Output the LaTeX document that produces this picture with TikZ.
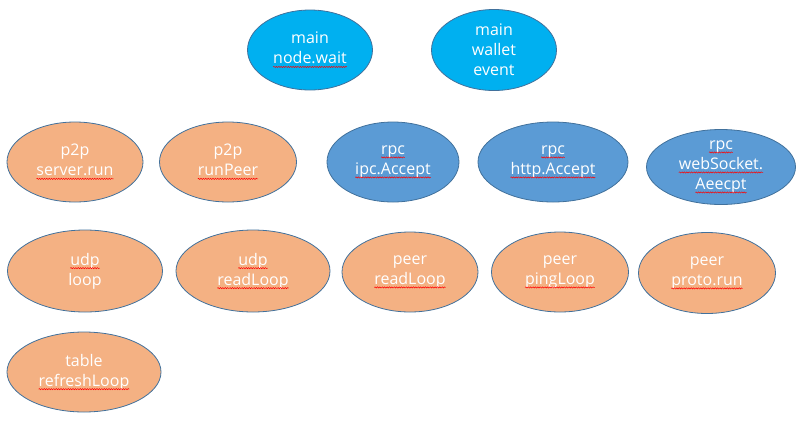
\documentclass[tikz,border=0pt]{standalone}
\usepackage{fontspec}
\setmainfont{Open Sans}
\usetikzlibrary{shapes.geometric,decorations.pathmorphing}
\definecolor{maincyan}{HTML}{00B0F0}
\definecolor{rpcblue}{HTML}{5B9BD5}
\definecolor{loopsalmon}{HTML}{F4B183}
\definecolor{edgeblue}{HTML}{41719C}
\newcommand\Typo[1]{\tikz[baseline=(w.base),every node/.style={}]{%
    \node[shape=rectangle,draw=none,fill=none,minimum size=0pt,inner sep=0pt,outer sep=0pt] (w) {#1};
    \draw[red,line width=0.5pt,decorate,decoration={snake,amplitude=0.6pt,segment length=2.4pt}]
        ([yshift=-3pt]w.base west) -- ([yshift=-3pt]w.base east);}}

\begin{document}
\begin{tikzpicture}[x=1pt,y=-1pt,
    bubble/.style={ellipse,draw=edgeblue,line width=0.8pt,inner sep=0pt,
        align=center,text=white,font=\fontsize{16}{20}\selectfont},
    ell/.style 2 args={minimum width=#1,minimum height=#2}]
    \useasboundingbox (0,0) rectangle (807,421);
    \begin{scope}[every node/.style={bubble,fill=maincyan}] % main
        \node[ell={125pt}{80pt}] (NodeWait) at (310,50) {main\\\Typo{node.wait}};
        \node[ell={125pt}{81pt}] (WalletEvent) at (494,50) {main\\wallet\\event};
    \end{scope}
    \begin{scope}[every node/.style={bubble,fill=loopsalmon}] % p2p
        \node[ell={136pt}{80pt}] (ServerRun) at (75,162) {p2p\\\Typo{server.run}};
        \node[ell={137pt}{80pt}] (RunPeer) at (228,162) {p2p\\\Typo{runPeer}};
    \end{scope}
    \begin{scope}[every node/.style={bubble,fill=rpcblue}] % rpc
        \node[ell={132pt}{80pt}] (IpcAccept) at (393,162) {\Typo{rpc}\\\Typo{ipc.Accept}};
        \node[ell={150pt}{80pt}] (HttpAccept) at (553,162) {\Typo{rpc}\\\Typo{http.Accept}};
        \node[ell={149pt}{75pt}] (WsAccept) at (721,167) {\Typo{rpc}\\\Typo{webSocket.}\\\Typo{Aeecpt}};
    \end{scope}
    \begin{scope}[every node/.style={bubble,fill=loopsalmon}] % udp, peer, table
        \node[ell={155pt}{82pt}] (UdpLoop) at (85,271) {\Typo{udp}\\loop};
        \node[ell={154pt}{82pt}] (UdpRead) at (253,271) {\Typo{udp}\\\Typo{readLoop}};
        \node[ell={136pt}{80pt}] (PeerRead) at (410,272) {peer\\\Typo{readLoop}};
        \node[ell={137pt}{80pt}] (PeerPing) at (560,272) {peer\\\Typo{pingLoop}};
        \node[ell={137pt}{81pt}] (PeerProto) at (707,273) {peer\\\Typo{proto.run}};
        \node[ell={154pt}{80pt}] (TableRefresh) at (84,372) {table\\\Typo{refreshLoop}};
    \end{scope}
\end{tikzpicture}
\end{document}
